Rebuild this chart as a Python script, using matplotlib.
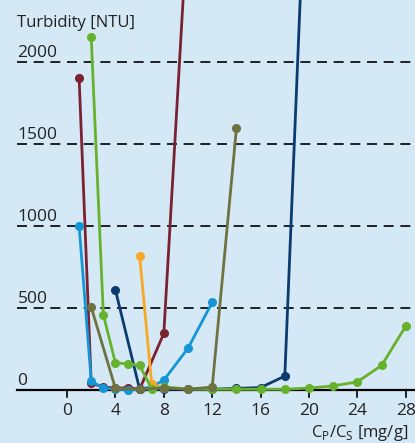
import matplotlib
matplotlib.use("Agg")
import matplotlib.pyplot as plt

plt.rcParams["font.family"] = ["Open Sans", "DejaVu Sans"]

# turbidity curves, x = C_P/C_S [mg/g], y = turbidity [NTU]
maroon_x = [1, 2, 3, 4, 5, 6, 8, 10]
maroon_y = [1900, 40, 20, 10, 15, 5, 345, 2900]

blue_x = [1, 2, 3, 4, 5, 6, 7, 8, 10, 12]
blue_y = [1000, 55, 12, 5, 2, 5, 20, 60, 255, 535]

navy_x = [4, 6, 8, 10, 12, 14, 16, 18, 20]
navy_y = [610, 5, 5, 5, 5, 10, 15, 85, 3700]

orange_x = [6, 7, 8]
orange_y = [820, 35, 10]

green_x = [2, 3, 4, 5, 6, 7, 8, 10, 12, 14, 16, 18, 20, 22, 24, 26, 28]
green_y = [2150, 460, 165, 160, 150, 8, 20, 5, 5, 5, 5, 5, 12, 25, 50, 150, 390]

olive_x = [2, 4, 6, 8, 10, 12, 14]
olive_y = [505, 10, 5, 12, 5, 18, 1595]

y_ticks = [0, 500, 1000, 1500, 2000]
x_ticks = [0, 4, 8, 12, 16, 20, 24, 28]

series = [
    (maroon_x, maroon_y, "#7b2232"),
    (blue_x, blue_y, "#1496d6"),
    (navy_x, navy_y, "#0b3b6f"),
    (orange_x, orange_y, "#f6a922"),
    (green_x, green_y, "#67b22c"),
    (olive_x, olive_y, "#6e7140"),
]

fig = plt.figure(figsize=(4.15, 4.43), dpi=100)
fig.patch.set_facecolor("#d4e8f5")
ax = fig.add_axes([0, 0, 1, 1])
ax.set_facecolor("#d4e8f5")
ax.set_xlim(-5.54, 28.76)
ax.set_ylim(-323, 2378)
ax.axis("off")

x0 = -4.1
for v in y_ticks:
    if v == 0:
        ax.plot([x0, 30], [0, 0], color="black", lw=1.6, zorder=2)
    else:
        ax.plot([x0, 30], [v, v], color="black", lw=1.2, ls=(0, (6, 4)), zorder=1)
    ax.text(x0, v + 5, str(v), fontsize=12.5, ha="left", va="bottom", color="#222222")

for t in x_ticks:
    ax.plot([t, t], [0, -45], color="black", lw=1.2, zorder=2)
    ax.text(t, -80, str(t), fontsize=12.5, ha="center", va="top", color="#222222")

for xs, ys, c in series:
    ax.plot(xs, ys, "-o", color=c, lw=2, ms=5.5, zorder=3, clip_on=True)

ax.text(x0, 2240, "Turbidity [NTU]", fontsize=12, ha="left", va="center", color="#222222")
ax.text(28.2, -265, r"C$_\mathregular{P}$/C$_\mathregular{S}$ [mg/g]", fontsize=12,
        ha="right", va="center", color="#222222")

fig.savefig("out.png", dpi=100, facecolor=fig.get_facecolor())
